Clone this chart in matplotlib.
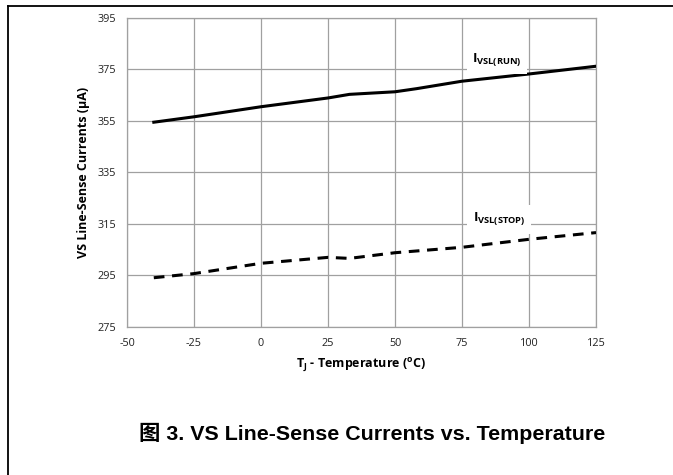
import numpy as np
import matplotlib
matplotlib.use('Agg')
import matplotlib.pyplot as plt
from matplotlib.lines import Line2D

plt.rcParams['font.family'] = ['Open Sans', 'DejaVu Sans']
plt.rcParams['axes.unicode_minus'] = False
plt.rcParams['mathtext.fontset'] = 'custom'
plt.rcParams['mathtext.rm'] = 'Open Sans'
plt.rcParams['mathtext.bf'] = 'Open Sans:bold'

# Datos
temp_run = [-40, -25, 0, 25, 33, 50, 58, 75, 100, 125]
i_run = [354.4, 356.5, 360.4, 363.8, 365.2, 366.2, 367.4, 370.3, 373.1, 376.1]
temp_stop = [-40, -25, 0, 25, 33, 50, 75, 100, 125]
i_stop = [294.1, 295.7, 299.7, 302.0, 301.6, 303.8, 305.9, 309.0, 311.6]

xticks = [-50, -25, 0, 25, 50, 75, 100, 125]
yticks = [275, 295, 315, 335, 355, 375, 395]

fig = plt.figure(figsize=(6.73, 4.75), dpi=100)
ax = fig.add_axes([127 / 673, 1 - 327 / 475, (596 - 127) / 673, (327 - 17.5) / 475])

ax.plot(temp_run, i_run, color='black', lw=2.2, zorder=3)
ax.plot(temp_stop, i_stop, color='black', lw=2.2, ls=(0, (3.5, 2.5)), zorder=3)

ax.set_xlim(-50, 125)
ax.set_ylim(275, 395)
ax.set_xticks(xticks)
ax.set_yticks(yticks)
ax.grid(True, color='#a0a0a0', lw=0.9)
ax.set_axisbelow(True)
for s in ax.spines.values():
    s.set_color('#a0a0a0')
    s.set_linewidth(0.9)
ax.tick_params(length=0, labelsize=7.8, colors='#222222', pad=8)

ax.set_ylabel('VS Line-Sense Currents (µA)', fontsize=9, fontweight='bold')
ax.yaxis.set_label_coords(-0.079, 0.5)
ax.set_xlabel(r'T$_\mathbf{J}$ - Temperature ($^\mathbf{o}$C)', fontsize=9,
              fontweight='bold', va='center')
ax.xaxis.set_label_coords(0.5, -0.124)

box = dict(facecolor='white', edgecolor='none', pad=4)
ax.text(88, 378.5, r'I$_{\mathbf{VSL(RUN)}}$', fontsize=9.5, fontweight='bold',
        ha='center', va='center', bbox=box, zorder=4)
ax.text(88.8, 316.8, r'I$_{\mathbf{VSL(STOP)}}$', fontsize=9.5, fontweight='bold',
        ha='center', va='center', bbox=box, zorder=4)

fig.text(372 / 673, 1 - 433 / 475, '图 3. VS Line-Sense Currents vs. Temperature',
         family=['Liberation Sans', 'Noto Sans CJK SC'], fontsize=15.4,
         fontweight='bold', ha='center', va='center')

# marco de la pagina
fig.add_artist(Line2D([8 / 673, 1], [1 - 6 / 475, 1 - 6 / 475], color='black', lw=1.3))
fig.add_artist(Line2D([8 / 673, 8 / 673], [0, 1 - 6 / 475], color='black', lw=1.3))

fig.savefig('out.png', dpi=100)
